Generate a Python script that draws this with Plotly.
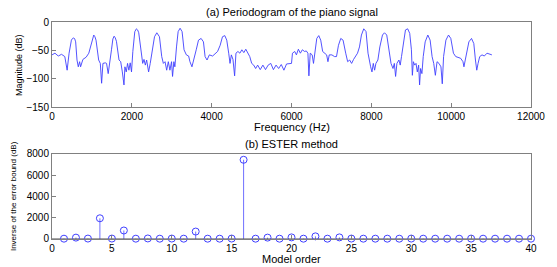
import plotly.graph_objects as go

# ---- Periodogram data ----
freq_hz = [0, 74, 157, 239, 321, 379, 428, 486, 515, 544, 570, 593, 626, 659, 692, 716, 774, 856, 922, 980,
           1015, 1046, 1075, 1103, 1169, 1210, 1243, 1276, 1334, 1367, 1408, 1449, 1490, 1525, 1556, 1585, 1614,
           1679, 1721, 1762, 1803, 1827, 1860, 1893, 1926, 1959, 1992, 2025, 2074, 2115, 2145, 2173, 2231, 2272,
           2305, 2338, 2371, 2420, 2461, 2502, 2568, 2626, 2692, 2749, 2790, 2832, 2873, 2914, 2954, 2995, 3020,
           3053, 3078, 3119, 3160, 3209, 3259, 3308, 3366, 3423, 3456, 3506, 3555, 3613, 3670, 3736, 3794, 3835,
           3884, 3942, 4024, 4082, 4148, 4213, 4271, 4329, 4378, 4427, 4460, 4493, 4534, 4575, 4608, 4658, 4707,
           4756, 4806, 4855, 4905, 4954, 5003, 5053, 5102, 5152, 5217, 5283, 5349, 5415, 5481, 5547, 5613, 5678,
           5744, 5810, 5876, 5942, 6000, 6024, 6082, 6123, 6172, 6222, 6271, 6329, 6370, 6411, 6436, 6469, 6518,
           6551, 6584, 6633, 6683, 6732, 6781, 6831, 6880, 6913, 6946, 7012, 7078, 7127, 7177, 7234, 7292, 7358,
           7407, 7456, 7506, 7555, 7604, 7654, 7703, 7752, 7810, 7868, 7917, 7950, 7983, 8016, 8049, 8082, 8115,
           8164, 8213, 8279, 8329, 8386, 8444, 8493, 8543, 8576, 8608, 8641, 8691, 8724, 8756, 8806, 8855, 8910,
           8962, 9004, 9028, 9053, 9086, 9119, 9152, 9185, 9209, 9234, 9267, 9300, 9349, 9415, 9473, 9522, 9563,
           9604, 9646, 9695, 9744, 9777, 9810, 9868, 9934, 9991, 10057, 10115, 10172, 10238, 10296, 10320, 10353,
           10386, 10444, 10510, 10567, 10608, 10641, 10674, 10715, 10773, 10831, 10897, 10962, 11020]
magnitude_db = [-58, -55, -60, -57, -61, -85, -55, -32, -29, -28, -30, -35, -67, -79, -70, -79, -66, -62, -55, -38,
                -27, -23, -26, -32, -67, -73, -108, -73, -72, -73, -91, -73, -49, -30, -25, -28, -34,
                -67, -70, -88, -111, -79, -88, -73, -85, -72, -88, -52, -17, -12, -14, -19, -55, -73,
                -66, -76, -67, -88, -73, -55, -26, -19, -26, -61, -73, -70, -85, -70, -85, -70, -96,
                -70, -79, -44, -17, -11, -17, -49, -58, -60, -70, -79, -67, -49, -32, -29, -35, -61,
                -67, -58, -60, -57, -52, -41, -26, -24, -32, -55, -73, -58, -66, -95, -55, -52, -55,
                -49, -54, -48, -55, -61, -73, -76, -82, -76, -84, -76, -84, -76, -73, -84, -76, -82,
                -75, -85, -74, -73, -73, -55, -52, -58, -48, -55, -49, -52, -51, -55, -95, -55, -58,
                -73, -55, -29, -24, -32, -52, -55, -58, -70, -58, -58, -61, -61, -41, -29, -32, -55,
                -70, -67, -73, -66, -61, -55, -44, -23, -12, -17, -55, -70, -79, -88, -73, -85, -73,
                -67, -44, -23, -19, -23, -55, -73, -82, -73, -96, -73, -67, -76, -61, -32, -14, -12,
                -20, -49, -94, -70, -76, -73, -88, -76, -111, -82, -91, -61, -35, -23, -32, -61, -73,
                -94, -70, -73, -79, -109, -61, -32, -23, -29, -55, -61, -62, -64, -70, -79, -67,
                -55, -35, -29, -38, -67, -85, -73, -61, -58, -60, -55, -56, -58]

# ---- ESTER data ----
model_order = list(range(1, 41))
ester_value = [30, 130, 40, 1950, 40, 800, 30, 50, 30, 40, 30, 700, 30, 30, 40, 7450, 30, 130, 30, 150,
               30, 250, 30, 150, 40, 30, 30, 30, 30, 40, 30, 30, 30, 30, 40, 30, 30, 30, 30, 30]

x1_ticks = [0, 2000, 4000, 6000, 8000, 10000, 12000]
x1_labels = ["0", "2000", "4000", "6000", "8000", "10000", "12000"]
y1_ticks = [-150, -100, -50, 0]
x2_ticks = [0, 5, 10, 15, 20, 25, 30, 35, 40]
y2_ticks = [0, 2000, 4000, 6000, 8000]

FONT = "Liberation Sans, Arial, sans-serif"
AXC = "#808080"
LINEC = "#4040ff"

fig = go.Figure()
fig.add_trace(go.Scatter(x=freq_hz, y=magnitude_db, mode="lines",
                         line=dict(color=LINEC, width=0.9), xaxis="x", yaxis="y",
                         showlegend=False, hoverinfo="skip"))

# stems
stem_x, stem_y = [], []
for o, v in zip(model_order, ester_value):
    stem_x += [o, o, None]
    stem_y += [0, v, None]
fig.add_trace(go.Scatter(x=stem_x, y=stem_y, mode="lines",
                         line=dict(color="#7070ff", width=1), xaxis="x2", yaxis="y2",
                         showlegend=False, hoverinfo="skip"))
fig.add_trace(go.Scatter(x=[0, 40], y=[0, 0], mode="lines",
                         line=dict(color="#505050", width=1), xaxis="x2", yaxis="y2",
                         showlegend=False, hoverinfo="skip"))
fig.add_trace(go.Scatter(x=model_order, y=ester_value, mode="markers",
                         marker=dict(symbol="circle-open", size=7, color="#4040ff", line=dict(width=1)),
                         xaxis="x2", yaxis="y2", showlegend=False, hoverinfo="skip", cliponaxis=False))

axis_common = dict(showline=True, mirror=True, linecolor=AXC, linewidth=1, ticks="inside",
                   ticklen=4, tickcolor=AXC, showgrid=False, zeroline=False,
                   tickfont=dict(family=FONT, size=10, color="#000"))

fig.update_layout(
    width=557, height=267,
    margin=dict(l=52, r=19, t=22, b=28),
    paper_bgcolor="white", plot_bgcolor="white",
    font=dict(family=FONT, size=11, color="#000"),
    xaxis=dict(domain=[0, 1], anchor="y", range=[0, 12000], tickvals=x1_ticks, ticktext=x1_labels,
               ticklabelstandoff=0, **axis_common),
    yaxis=dict(domain=[0.608, 1.0], anchor="x", range=[-150, 0], tickvals=y1_ticks, **axis_common),
    xaxis2=dict(domain=[0, 1], anchor="y2", range=[0, 40], tickvals=x2_ticks,
                ticklabelstandoff=0, **axis_common),
    yaxis2=dict(domain=[0, 0.392], anchor="x2", range=[0, 8000], tickvals=y2_ticks, **axis_common),
    annotations=[
        dict(text="(a) Periodogram of the piano signal", xref="paper", yref="paper", x=0.5, y=1.046,
             xanchor="center", yanchor="middle", showarrow=False, font=dict(size=11)),
        dict(text="Frequency (Hz)", xref="paper", yref="paper", x=0.5, y=(239 - 127) / 217,
             xanchor="center", yanchor="middle", showarrow=False, font=dict(size=11)),
        dict(text="Magnitude (dB)", xref="paper", yref="paper", x=(18 - 52) / 486, y=(239 - 64.5) / 217,
             xanchor="center", yanchor="middle", textangle=-90, showarrow=False, font=dict(size=9)),
        dict(text="(b) ESTER method", xref="paper", yref="paper", x=0.5, y=(239 - 144) / 217,
             xanchor="center", yanchor="middle", showarrow=False, font=dict(size=11)),
        dict(text="Model order", xref="paper", yref="paper", x=0.5, y=(239 - 259) / 217,
             xanchor="center", yanchor="middle", showarrow=False, font=dict(size=11)),
        dict(text="Inverse of the error bound (dB)", xref="paper", yref="paper", x=(13 - 52) / 486,
             y=(239 - 196.5) / 217, xanchor="center", yanchor="middle", textangle=-90,
             showarrow=False, font=dict(size=8)),
    ],
)

fig.write_html("out.html", config={"displayModeBar": False},
               post_script="document.body.style.margin='0';document.body.style.overflow='hidden';")
